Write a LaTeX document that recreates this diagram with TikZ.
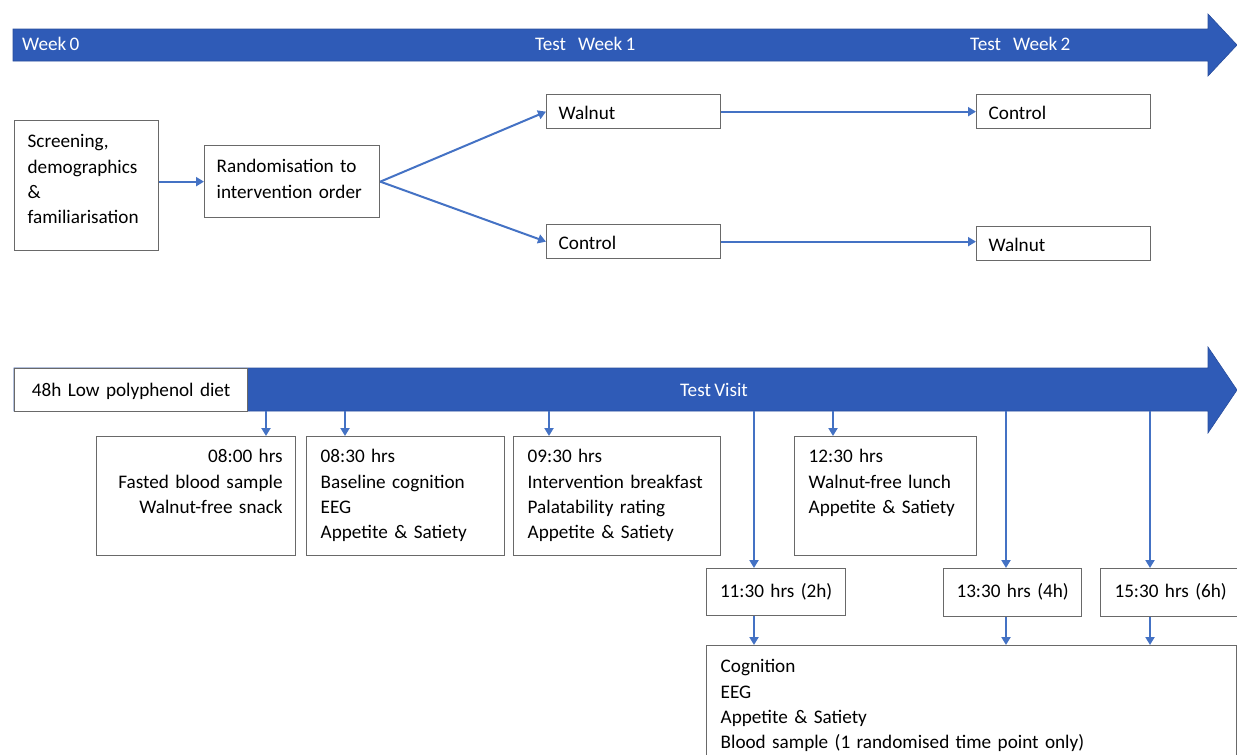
\documentclass[tikz,border=0pt]{standalone}
\usepackage{fontspec}
\setmainfont{Carlito}
\usetikzlibrary{arrows.meta}
\definecolor{barblue}{RGB}{47,91,183}
\definecolor{lnblue}{RGB}{68,114,196}
\definecolor{boxgray}{RGB}{105,105,105}
\newcommand{\fs}{\fontsize{19.2}{25.4}\selectfont\spaceskip=3.3pt plus 1pt minus 0.5pt\relax\hyphenpenalty=10000\exhyphenpenalty=10000}
\begin{document}
\begin{tikzpicture}[x=1pt,y=-1pt,
  box/.style={draw=boxgray, line width=1.3pt, anchor=north west, inner xsep=12pt, inner ysep=0pt, align=left, text height=27pt, font=\fs},
  conn/.style={draw=lnblue, line width=2pt, -{Triangle[length=8pt,width=9pt]}},
  bartxt/.style={text=white, font=\fs, inner sep=0pt, anchor=base west},
  barshape/.style={fill=barblue, draw=barblue!85!black, line width=0.6pt}]
\useasboundingbox (0,0) rectangle (1237,755);

% top timeline bar
\path[barshape] (13,29) -- (1208,29) -- (1208,14) -- (1237,45) -- (1208,76) -- (1208,61) -- (13,61) -- cycle;
\node[bartxt] (wk0) at (22,50) {Week 0};
\node[bartxt] (wk1) at (535,50) {Test\hspace{12pt}Week 1};
\node[bartxt] (wk2) at (970,50) {Test\hspace{12pt}Week 2};

% top flow
\node[box, inner xsep=13pt, text width=118pt, text depth=103pt] (scr) at (14,120) {Screening,\\demographics\\\&\\familiarisation};
\node[box, text width=151pt, text depth=45pt] (rand) at (204,145) {Randomisation to\\intervention order};
\node[box, text width=150pt, text height=25pt, text depth=9pt] (w1) at (546,94) {Walnut};
\node[box, text width=150pt, text height=25pt, text depth=9pt] (c2) at (976,94) {Control};
\node[box, text width=150pt, text height=25pt, text depth=9pt] (c1) at (546,224) {Control};
\node[box, text width=150pt, text height=25pt, text depth=9pt] (w2) at (976,226) {Walnut};

\draw[conn] (scr.east |- rand.west) -- (rand.west);
\draw[conn] (rand.east) -- (w1.west);
\draw[conn] (rand.east) -- (c1.west);
\draw[conn] (w1.east) -- (c2.west);
\draw[conn] (c1.east) -- (c1.east -| w2.west);

% bottom timeline bar
\path[barshape] (14,368) -- (1208,368) -- (1208,347) -- (1237,390) -- (1208,433) -- (1208,411) -- (14,411) -- cycle;
\node[box, fill=white, align=center, text width=209pt, text height=28pt, text depth=15pt] (diet) at (14,368) {48h Low polyphenol diet};
\node[bartxt, anchor=base] (tv) at (714,396) {Test Visit};

% visit boxes
\node[box, align=right, inner xsep=13pt, text width=173pt, text height=26pt, text depth=93pt] (t1) at (96,436) {08:00 hrs\\Fasted blood sample\\Walnut-free snack};
\node[box, inner xsep=14pt, text width=170pt, text height=26pt, text depth=93pt] (t2) at (306,436) {08:30 hrs\\Baseline cognition\\EEG\\Appetite \& Satiety};
\node[box, inner xsep=14pt, text width=179pt, text height=26pt, text depth=93pt] (t3) at (513,436) {09:30 hrs\\Intervention breakfast\\Palatability rating\\Appetite \& Satiety};
\node[box, inner xsep=14pt, text width=154pt, text height=26pt, text depth=93pt] (t4) at (794,436) {12:30 hrs\\Walnut-free lunch\\Appetite \& Satiety};

\node[box, align=center, inner xsep=6pt, text width=127pt, text height=29pt, text depth=18pt] (p1) at (706,568) {11:30 hrs (2h)};
\node[box, align=center, inner xsep=6pt, text width=126pt, text height=29pt, text depth=19pt] (p2) at (943,568) {13:30 hrs (4h)};
\node[box, align=center, inner xsep=6pt, text width=128pt, text height=29pt, text depth=19pt] (p3) at (1100,568) {15:30 hrs (6h)};

\node[box, inner xsep=14pt, text width=502pt, text height=27pt, text depth=100pt] (res) at (706,645) {Cognition\\EEG\\Appetite \& Satiety\\Blood sample (1 randomised time point only)};

% drop arrows from bar
\coordinate (a1) at (266,411);
\coordinate (a2) at (345,411);
\coordinate (a3) at (549,411);
\coordinate (a4) at (833,411);
\coordinate (a5) at (754,411);
\coordinate (a6) at (1006,411);
\coordinate (a7) at (1150,411);
\draw[conn] (a1) -- (a1 |- t1.north);
\draw[conn] (a2) -- (a2 |- t2.north);
\draw[conn] (a3) -- (a3 |- t3.north);
\draw[conn] (a4) -- (a4 |- t4.north);
\draw[conn] (a5) -- (a5 |- p1.north);
\draw[conn] (a6) -- (a6 |- p2.north);
\draw[conn] (a7) -- (a7 |- p3.north);
\draw[conn] (a5 |- p1.south) -- (a5 |- res.north);
\draw[conn] (a6 |- p2.south) -- (a6 |- res.north);
\draw[conn] (a7 |- p3.south) -- (a7 |- res.north);
\end{tikzpicture}
\end{document}
